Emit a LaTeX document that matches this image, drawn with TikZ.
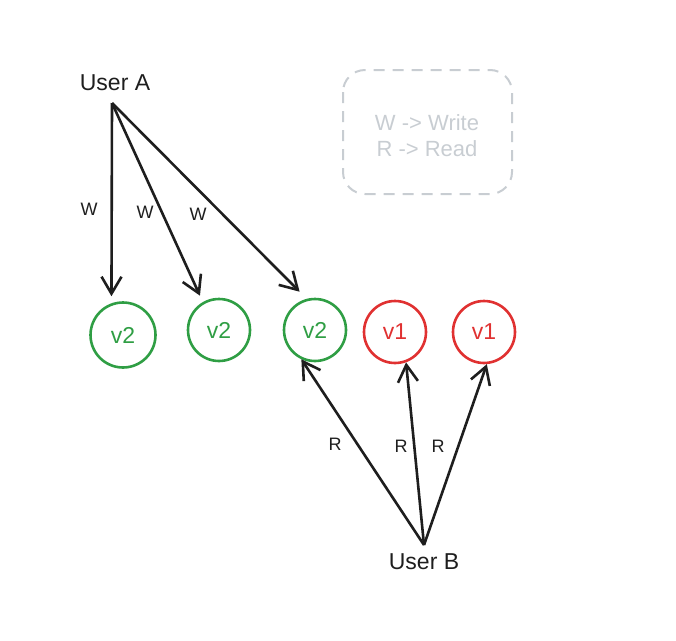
\documentclass[tikz,border=0pt]{standalone}
\usepackage{fontspec}
\setmainfont{Liberation Sans}
\usetikzlibrary{arrows.meta}
\usetikzlibrary{positioning}
\definecolor{ink}{HTML}{1E1E1E}
\definecolor{fresh}{HTML}{2F9E44}
\definecolor{stale}{HTML}{E03131}
\definecolor{note}{HTML}{C8CDD2}

\begin{document}
\begin{tikzpicture}[x=1pt, y=-1pt,
    ver/.style={circle, draw, line width=2.6pt, minimum size=62pt, inner sep=0pt, font=\fontsize{23}{26}\selectfont},
    fresh ver/.style={ver, draw=fresh, text=fresh},
    stale ver/.style={ver, draw=stale, text=stale},
    user/.style={ink, font=\fontsize{23}{26}\selectfont},
    op/.style={ink, line width=2.6pt, -{Straight Barb[length=17pt, width=20pt]}},
    op label/.style={ink, font=\fontsize{18}{20}\selectfont}]
    \useasboundingbox (0,0) rectangle (676,640);
    \draw[note, line width=2pt, dash pattern=on 11pt off 8pt, rounded corners=22pt] (343,70) rectangle (512,194);
    \node[note, align=center, font=\fontsize{22}{26}\selectfont] (key) at (427,136) {W -> Write\\R -> Read};
    \node[user] (userA) at (115,83) {User A};
    \node[user] (userB) at (424,562) {User B};
    \coordinate (a) at (112,103);
    \coordinate (b) at (424,545);
    \node[fresh ver, minimum size=65pt] (n1) at (123,335) {v2};
    \node[fresh ver] (n2) at (219,330) {v2};
    \node[fresh ver] (n3) at (315,330) {v2};
    \node[stale ver] (n4) at (395,332) {v1};
    \node[stale ver] (n5) at (484,332) {v1};
    \draw[op, shorten >=7pt] (a) -- (n1.110);
    \draw[op, shorten >=7pt] (a) -- (n2.120);
    \draw[op, shorten >=10pt] (a) -- (n3.105);
    \draw[op] (b) -- (n3.-115);
    \draw[op] (b) -- (n4.-70);
    \draw[op] (b) -- (n5.-85);
    \node[op label] (w1) at (89,209) {W};
    \node[op label] (w2) at (145,212) {W};
    \node[op label] (w3) at (198,214) {W};
    \node[op label] (r1) at (335,444) {R};
    \node[op label] (r2) at (401,446) {R};
    \node[op label] (r3) at (438,446) {R};
\end{tikzpicture}
\end{document}
